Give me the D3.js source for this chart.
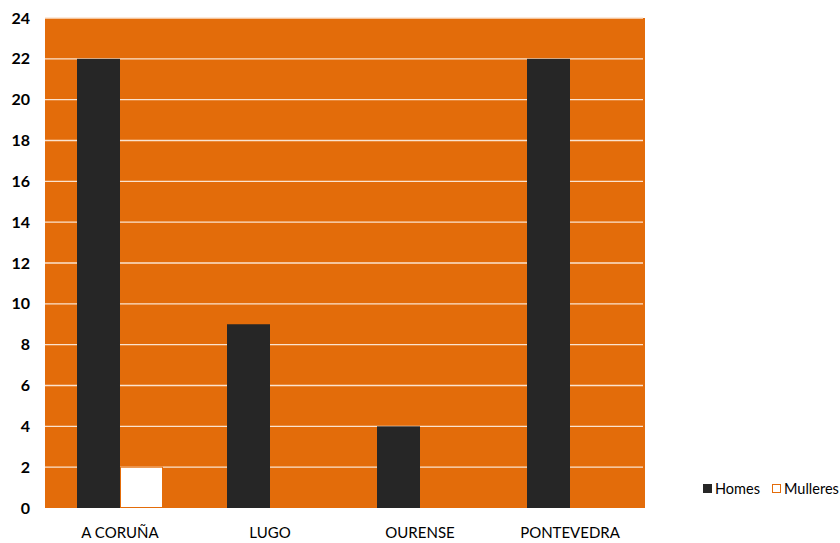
<!DOCTYPE html>
<html><head><meta charset="utf-8">
<script src="https://cdn.jsdelivr.net/npm/d3@7"></script>
<style>body{margin:0;background:#fff;} text{font-family:Lato,"Liberation Sans",Arial,sans-serif;}</style>
</head><body>
<svg id="c" width="840" height="543"></svg>
<script>
const categories = ["A CORUÑA","LUGO","OURENSE","PONTEVEDRA"];
const seriesNames = ["Homes","Mulleres"];
const homes = [22, 9, 4, 22];
const mulleres = [2, 0, 0, 0];
const yTicks = [0,2,4,6,8,10,12,14,16,18,20,22,24];

const svg = d3.select("#c");
const L=45, R=645, T=18, B=508;
const orange="#E36C0A", dark="#262626";
const FONT = "Lato,'Liberation Sans',Arial,sans-serif";
const x = d3.scaleBand().domain(categories).range([L,R]).paddingInner(0).paddingOuter(0);
const y = d3.scaleLinear().domain([0,24]).range([B,T]);
const barW = 43;

svg.append("rect").attr("x",L).attr("y",T).attr("width",R-L).attr("height",B-T).attr("fill",orange);
svg.append("g").selectAll("line").data(yTicks.filter(d=>d>0)).join("line")
  .attr("x1",L).attr("x2",R-2).attr("y1",d=>y(d)).attr("y2",d=>y(d))
  .attr("stroke","#FBE3CF").attr("stroke-width",1.3);

const data = categories.map((c,i)=>({c,h:homes[i],m:mulleres[i]}));
svg.append("g").selectAll("rect").data(data).join("rect")
  .attr("x",d=>x(d.c)+x.bandwidth()/2-barW).attr("width",barW)
  .attr("y",d=>y(d.h)).attr("height",d=>y(0)-y(d.h)).attr("fill",dark);
svg.append("g").selectAll("rect").data(data.filter(d=>d.m>0)).join("rect")
  .attr("x",d=>x(d.c)+x.bandwidth()/2+0.5).attr("width",barW-1)
  .attr("y",d=>y(d.m)).attr("height",d=>y(0)-y(d.m)-0.5).attr("fill","#fff")
  .attr("stroke",orange).attr("stroke-width",1);

const ya = d3.axisLeft(y).tickValues(yTicks).tickSize(0).tickPadding(15);
svg.append("g").attr("transform",`translate(${L},0)`).call(ya)
  .call(g=>g.select(".domain").remove())
  .selectAll("text").attr("font-size",16).attr("font-weight","bold").attr("fill","#000")
  .style("font-family",FONT);

const xa = d3.axisBottom(x).tickSize(0).tickPadding(19);
svg.append("g").attr("transform",`translate(0,${B})`).call(xa)
  .call(g=>g.select(".domain").remove())
  .selectAll("text").attr("font-size",15).attr("fill","#000")
  .style("font-family",FONT);

const lg = svg.append("g");
lg.append("rect").attr("x",703).attr("y",484).attr("width",9).attr("height",9).attr("fill",dark);
lg.append("text").attr("x",715).attr("y",494).attr("font-size",14.5).text(seriesNames[0]);
lg.append("rect").attr("x",772.5).attr("y",484.5).attr("width",8).attr("height",8).attr("fill","#fff").attr("stroke",orange);
lg.append("text").attr("x",784).attr("y",494).attr("font-size",14.5).text(seriesNames[1]);
</script>
</body></html>
